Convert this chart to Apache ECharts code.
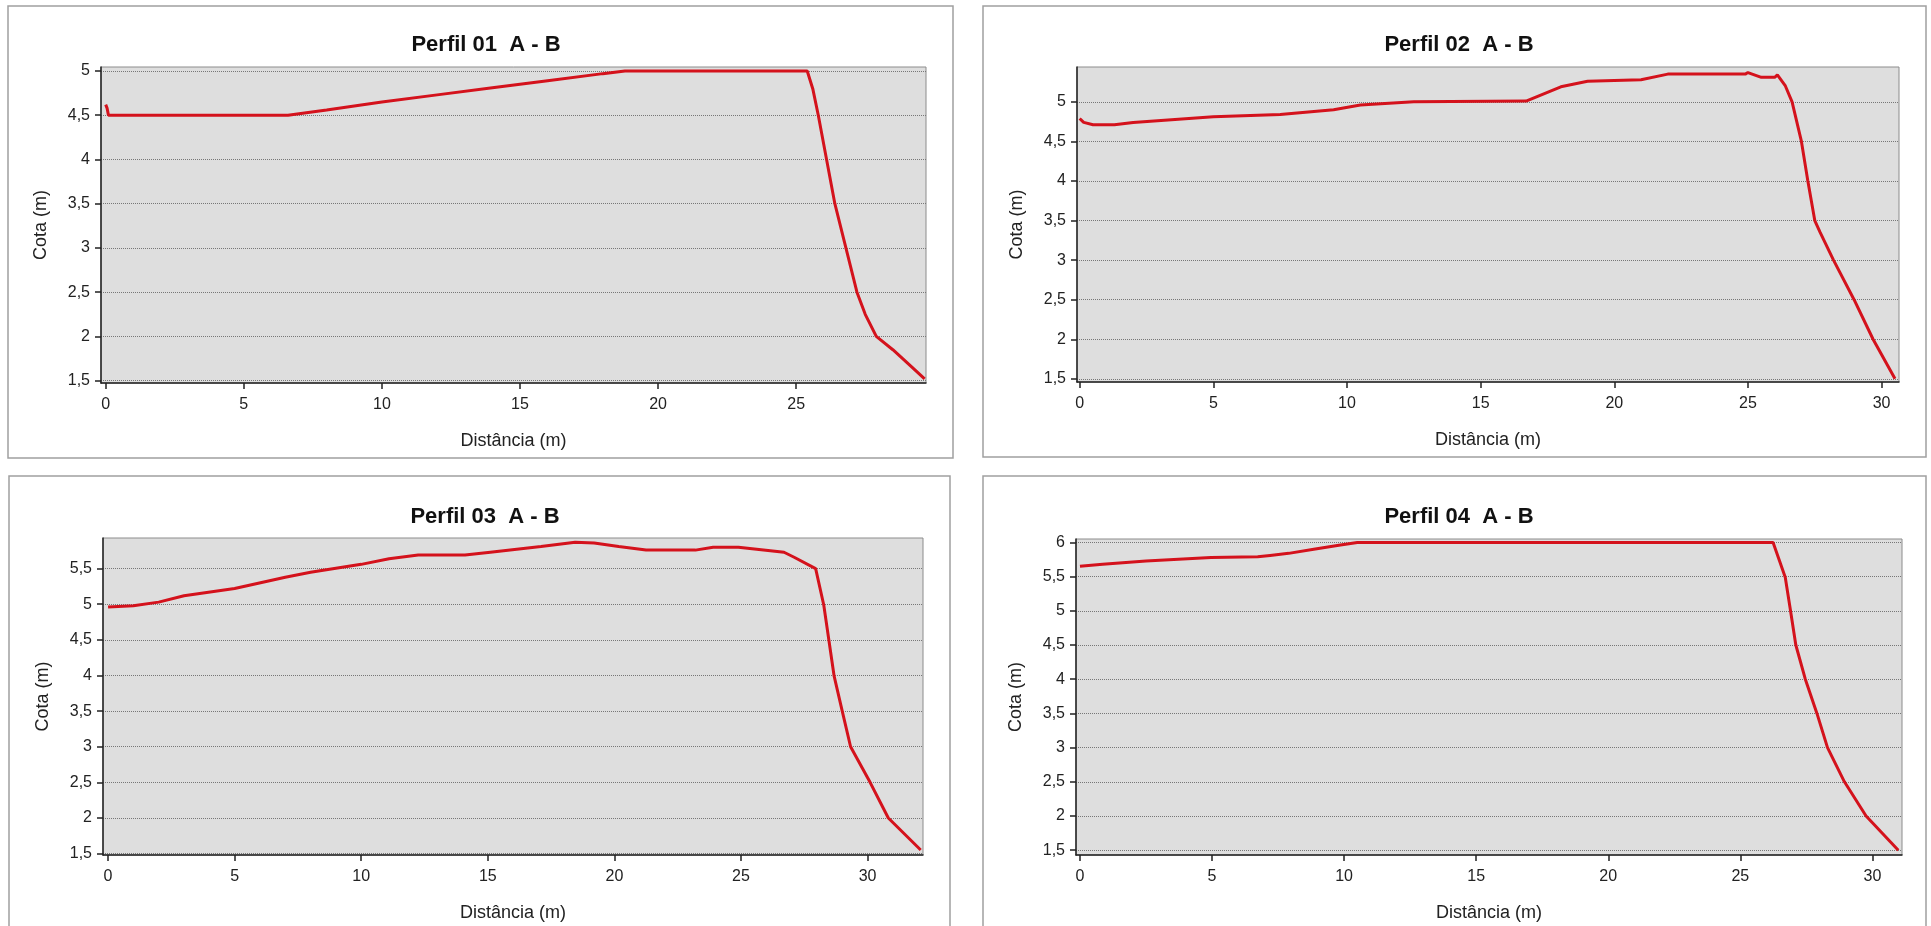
<!DOCTYPE html>
<html>
<head>
<meta charset="utf-8">
<script src="https://cdn.jsdelivr.net/npm/echarts@6/dist/echarts.min.js"></script>
<style>
html,body{margin:0;padding:0;background:#fff;}
#chart{width:1931px;height:926px;}
</style>
</head>
<body>
<div id="chart"></div>
<script>
// ---- Data ----
const titles = ['Perfil 01  A - B', 'Perfil 02  A - B', 'Perfil 03  A - B', 'Perfil 04  A - B'];
const xName = 'Distância (m)';
const yName = 'Cota (m)';

const dist01 = [0, 0.05, 0.1, 6.6, 8, 10, 12, 14, 16, 18, 18.8, 25.4, 25.6, 25.8, 26.1, 26.4, 26.8, 27.2, 27.5, 27.9, 28.5, 29.2, 29.65];
const cota01 = [4.62, 4.58, 4.5, 4.5, 4.56, 4.65, 4.73, 4.81, 4.89, 4.97, 5.0, 5.0, 4.8, 4.5, 4.0, 3.5, 3.0, 2.5, 2.25, 2.0, 1.85, 1.65, 1.52];

const dist02 = [0, 0.15, 0.5, 1.3, 2, 5, 7.5, 9.5, 10.5, 12.5, 16.7, 18.0, 19.0, 21.0, 22.0, 24.9, 25.0, 25.5, 26.0, 26.1, 26.4, 26.65, 27.0, 27.24, 27.5, 27.7, 28.2, 28.97, 29.68, 30.5];
const cota02 = [4.79, 4.74, 4.71, 4.71, 4.74, 4.81, 4.84, 4.9, 4.96, 5.0, 5.01, 5.19, 5.26, 5.28, 5.35, 5.35, 5.37, 5.31, 5.31, 5.34, 5.2, 5.0, 4.5, 4.0, 3.5, 3.35, 3.0, 2.5, 2.0, 1.5];

const dist03 = [0, 1, 2, 3, 5, 7, 8, 10, 11.1, 12.25, 14.1, 15.1, 17.1, 18.45, 19.2, 20.17, 21.25, 23.2, 23.9, 24.9, 26.7, 27.1, 27.95, 28.27, 28.68, 29.0, 29.33, 30.1, 30.82, 32.1];
const cota03 = [4.96, 4.98, 5.03, 5.12, 5.22, 5.38, 5.45, 5.56, 5.64, 5.69, 5.69, 5.73, 5.81, 5.87, 5.86, 5.81, 5.76, 5.76, 5.8, 5.8, 5.73, 5.66, 5.5, 4.99, 3.99, 3.5, 3.0, 2.5, 2.0, 1.55];

const dist04 = [0, 0.86, 2.5, 4.96, 6.73, 7.2, 7.9, 8.85, 9.8, 10.5, 26.24, 26.7, 26.9, 27.1, 27.46, 27.9, 28.3, 28.94, 29.76, 30.98];
const cota04 = [5.65, 5.68, 5.73, 5.78, 5.79, 5.81, 5.84, 5.9, 5.96, 6.0, 6.0, 5.49, 5.0, 4.5, 4.0, 3.5, 3.0, 2.5, 2.0, 1.5];

const xTicks01 = [0, 5, 10, 15, 20, 25];
const xTicks = [0, 5, 10, 15, 20, 25, 30];
const yTicks01 = [1.5, 2, 2.5, 3, 3.5, 4, 4.5, 5];
const yTicks02 = [1.5, 2, 2.5, 3, 3.5, 4, 4.5, 5];
const yTicks03 = [1.5, 2, 2.5, 3, 3.5, 4, 4.5, 5, 5.5];
const yTicks04 = [1.5, 2, 2.5, 3, 3.5, 4, 4.5, 5, 5.5, 6];

const xRanges = [[-0.17, 29.7], [-0.1, 30.65], [-0.2, 32.19], [-0.15, 31.12]];
const yRanges = [[1.474, 5.045], [1.46, 5.44], [1.48, 5.93], [1.43, 6.05]];

// ---- Layout ----
const grids = [
  {left: 101, top: 67, width: 825, height: 316},
  {left: 1077, top: 67, width: 822, height: 315},
  {left: 103, top: 538, width: 820, height: 317},
  {left: 1076, top: 539, width: 826, height: 316}
];
const frames = [
  {x: 8, y: 6, w: 945, h: 452},
  {x: 983, y: 6, w: 943, h: 451},
  {x: 9, y: 476, w: 941, h: 470},
  {x: 983, y: 476, w: 943, h: 470}
];
const titleCenters = [[481, 40], [1454, 40], [480, 512], [1454, 512]];

const dists = [dist01, dist02, dist03, dist04];
const cotas = [cota01, cota02, cota03, cota04];
const xTickSets = [xTicks01, xTicks, xTicks, xTicks];
const yTickSets = [yTicks01, yTicks02, yTicks03, yTicks04];

const FONT = '"Liberation Sans", Arial, sans-serif';
const fmt = v => String(v).replace('.', ',');

const option = {
  backgroundColor: '#ffffff',
  animation: false,
  title: titles.map((t, i) => ({
    text: t,
    left: titleCenters[i][0],
    top: titleCenters[i][1],
    textAlign: 'center',
    textVerticalAlign: 'middle',
    textStyle: {fontFamily: FONT, fontWeight: 'bold', fontSize: 22, color: '#111'}
  })),
  graphic: frames.map(f => ({
    type: 'rect',
    shape: {x: f.x, y: f.y, width: f.w, height: f.h},
    style: {fill: 'none', stroke: '#a0a0a0', lineWidth: 1.5},
    silent: true,
    z: -10
  })),
  grid: grids.map(g => Object.assign({
    show: true,
    backgroundColor: '#dedede',
    borderColor: '#8c8c8c',
    borderWidth: 1
  }, g)),
  xAxis: grids.map((g, i) => ({
    type: 'value',
    gridIndex: i,
    min: xRanges[i][0],
    max: xRanges[i][1],
    name: xName,
    nameLocation: 'middle',
    nameGap: 49,
    nameTextStyle: {fontFamily: FONT, fontSize: 18, color: '#222'},
    axisLine: {show: true, onZero: false, lineStyle: {color: '#222', width: 1.5}},
    axisTick: {show: true, length: 6, customValues: xTickSets[i], lineStyle: {color: '#222', width: 1.5}},
    axisLabel: {show: true, customValues: xTickSets[i], margin: 14, fontFamily: FONT, fontSize: 16, color: '#222', formatter: fmt},
    splitLine: {show: false}
  })),
  yAxis: grids.map((g, i) => ({
    type: 'value',
    gridIndex: i,
    min: yRanges[i][0],
    max: yRanges[i][1],
    name: yName,
    nameLocation: 'middle',
    nameGap: 51,
    nameTextStyle: {fontFamily: FONT, fontSize: 18, color: '#222'},
    axisLine: {show: true, onZero: false, lineStyle: {color: '#222', width: 1.5}},
    axisTick: {show: true, length: 6, customValues: yTickSets[i], lineStyle: {color: '#222', width: 1.5}},
    axisLabel: {show: true, customValues: yTickSets[i], margin: 11, fontFamily: FONT, fontSize: 16, color: '#222', formatter: fmt},
    splitLine: {show: true, lineStyle: {color: '#777', type: [1, 1], width: 1}}
  })),
  series: dists.map((d, i) => ({
    type: 'line',
    xAxisIndex: i,
    yAxisIndex: i,
    data: d.map((x, k) => [x, cotas[i][k]]),
    showSymbol: false,
    symbol: 'none',
    lineStyle: {color: '#d4121c', width: 3},
    z: 5
  }))
};

const chart = echarts.init(document.getElementById('chart'), null, {renderer: 'canvas'});
chart.setOption(option);
</script>
</body>
</html>
